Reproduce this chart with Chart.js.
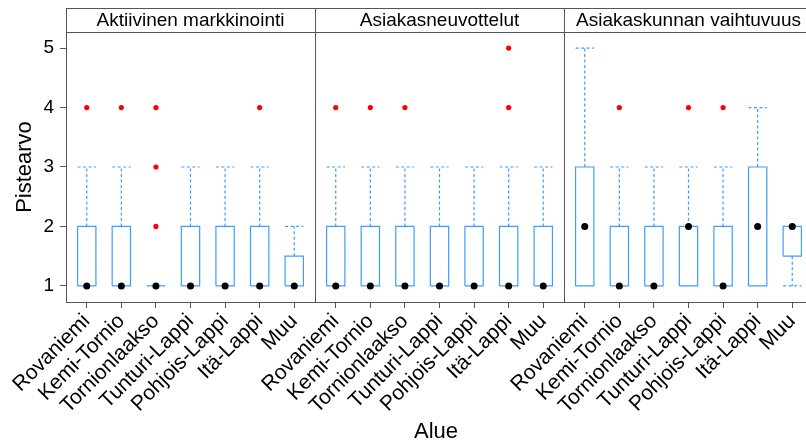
<!DOCTYPE html>
<html>
<head>
<meta charset="utf-8">
<script src="https://cdn.jsdelivr.net/npm/chart.js@4"></script>
<style>
html,body{margin:0;padding:0;background:#fff;overflow:hidden;}
#wrap{width:806px;height:445px;}
</style>
</head>
<body>
<div id="wrap"><canvas id="c" width="806" height="445" style="width:806px;height:445px"></canvas></div>
<script>
// ---- Data ----
const categories = ['Rovaniemi','Kemi-Tornio','Tornionlaakso','Tunturi-Lappi','Pohjois-Lappi','Itä-Lappi','Muu'];
const panels = ['Aktiivinen markkinointi','Asiakasneuvottelut','Asiakaskunnan vaihtuvuus'];
const q1 = [
  [1,1,1,1,1,1,1],
  [1,1,1,1,1,1,1],
  [1,1,1,1,1,1,1.5]
];
const q3 = [
  [2,2,1,2,2,2,1.5],
  [2,2,2,2,2,2,2],
  [3,2,2,2,2,3,2]
];
const medians = [
  [1,1,1,1,1,1,1],
  [1,1,1,1,1,1,1],
  [2,1,1,2,1,2,2]
];
const whiskerLow = [
  [1,1,1,1,1,1,1],
  [1,1,1,1,1,1,1],
  [1,1,1,1,1,1,1]
];
const whiskerHigh = [
  [3,3,1,3,3,3,2],
  [3,3,3,3,3,3,3],
  [5,3,3,3,3,4,2]
];
const outliers = [
  [[4],[4],[2,3,4],[],[],[4],[]],
  [[4],[4],[4],[],[],[4,5],[]],
  [[],[4],[],[4],[4],[],[]]
];
const yTicks = [1,2,3,4,5];
const yTitle = 'Pistearvo';
const xTitle = 'Alue';

// ---- layout helpers (positions on the concatenated panel axis) ----
const PANEL_SPAN = categories.length + 0.2;   // 7.2 units per panel
const HALF = 0.265;                           // half box width in category units
const PX_PER_UNIT = 249 / PANEL_SPAN;         // panel width 249px in the reference
const X_MIN = 0.4;
const X_MAX = X_MIN + (806 - 66) / PX_PER_UNIT; // last panel runs past the right edge
const xPos = (p, i) => p * PANEL_SPAN + i + 1;
const tickPositions = [];
panels.forEach((_, p) => categories.forEach((_, i) => tickPositions.push(xPos(p, i))));

const BLUE = '#3f9dff';
const boxPts = [], whiskPts = [], medPts = [], outPts = [];
panels.forEach((_, p) => {
  categories.forEach((_, i) => {
    const x = xPos(p, i);
    const a = q1[p][i], b = q3[p][i];
    boxPts.push({x:x-HALF,y:a},{x:x+HALF,y:a},{x:x+HALF,y:b},{x:x-HALF,y:b},{x:x-HALF,y:a},{x:x,y:null});
    const hi = whiskerHigh[p][i], lo = whiskerLow[p][i];
    if (hi > b) {
      whiskPts.push({x:x,y:b},{x:x,y:hi},{x:x,y:null},{x:x-HALF,y:hi},{x:x+HALF,y:hi},{x:x,y:null});
    }
    if (lo < a) {
      whiskPts.push({x:x,y:a},{x:x,y:lo},{x:x,y:null},{x:x-HALF,y:lo},{x:x+HALF,y:lo},{x:x,y:null});
    }
    medPts.push({x:x,y:medians[p][i]});
    outliers[p][i].forEach(v => outPts.push({x:x,y:v}));
  });
});

const FONT = '"Liberation Sans", Arial, Helvetica, sans-serif';

const stripPlugin = {
  id: 'strips',
  afterDraw(chart) {
    const {ctx, chartArea} = chart;
    const xs = chart.scales.x;
    const top = 8, stripBottom = chartArea.top, bottom = chartArea.bottom;
    ctx.save();
    ctx.strokeStyle = '#555';
    ctx.lineWidth = 1;
    const lefts = panels.map((_, p) => xs.getPixelForValue(p*PANEL_SPAN+X_MIN));
    const centers = panels.map((_, p) => xs.getPixelForValue(p*PANEL_SPAN+X_MIN+PANEL_SPAN/2));
    ctx.beginPath();
    ctx.moveTo(lefts[0], top+0.5); ctx.lineTo(chart.width, top+0.5);
    ctx.moveTo(lefts[0], stripBottom+0.5); ctx.lineTo(chart.width, stripBottom+0.5);
    lefts.forEach(l => {
      const lx = Math.round(l)+0.5;
      ctx.moveTo(lx, top); ctx.lineTo(lx, bottom+0.5);
    });
    ctx.stroke();
    ctx.fillStyle = '#000';
    ctx.font = '19px ' + FONT;
    ctx.textAlign = 'center';
    ctx.textBaseline = 'middle';
    panels.forEach((t, p) => ctx.fillText(t, centers[p], (top+stripBottom)/2 + 1));
    ctx.restore();
  }
};

Chart.defaults.color = '#000';
new Chart(document.getElementById('c'), {
  type: 'scatter',
  data: {
    datasets: [
      {label:'outliers', data: outPts, order:0, pointRadius:2.6, pointBackgroundColor:'#ff0000', pointBorderWidth:0, pointBorderColor:'#ff0000', showLine:false},
      {label:'median', data: medPts, order:1, pointRadius:3.5, pointBackgroundColor:'#000', pointBorderWidth:0, showLine:false},
      {label:'box', data: boxPts, order:2, showLine:true, spanGaps:false, borderColor:BLUE, borderWidth:1.2, pointRadius:0, fill:false, tension:0},
      {label:'whisker', data: whiskPts, order:3, showLine:true, spanGaps:false, borderColor:BLUE, borderWidth:1.2, borderDash:[3,2.5], pointRadius:0, fill:false, tension:0}
    ]
  },
  options: {
    responsive: false,
    animation: false,
    devicePixelRatio: 1,
    events: [],
    layout: { autoPadding: false, padding: { top: 32, right: 0, left: 0, bottom: 0 } },
    plugins: { legend: {display:false}, tooltip: {enabled:false} },
    scales: {
      x: {
        type: 'linear',
        position: 'bottom',
        min: X_MIN,
        max: X_MAX,
        afterBuildTicks: s => { s.ticks = tickPositions.map(v => ({value: v})); },
        afterFit: s => { s.height = 143; s.paddingLeft = 0; s.paddingRight = 0; },
        ticks: {
          autoSkip: false, maxRotation: 45, minRotation: 45, padding: 1,
          font: { size: 21, family: FONT }, color: '#000',
          callback: (v, i) => categories[i % categories.length]
        },
        grid: { drawOnChartArea: false, drawTicks: true, tickLength: 6, color: '#555' },
        border: { display: true, color: '#555' },
        title: { display: true, text: xTitle, font: { size: 22, family: FONT }, color: '#000', padding: { top: 0, bottom: 0 } }
      },
      y: {
        type: 'linear',
        min: 0.73,
        max: 5.27,
        afterBuildTicks: s => { s.ticks = yTicks.map(v => ({value: v})); },
        afterFit: s => { s.width = 66; s.paddingTop = 0; s.paddingBottom = 0; },
        ticks: { padding: 6, font: { size: 19, family: FONT }, color: '#000' },
        grid: { drawOnChartArea: false, drawTicks: true, tickLength: 6, color: '#555' },
        border: { display: true, color: '#555' },
        title: { display: true, text: yTitle, font: { size: 22, family: FONT }, color: '#000', padding: { top: 12, bottom: 0 } }
      }
    }
  },
  plugins: [stripPlugin]
});
</script>
</body>
</html>
